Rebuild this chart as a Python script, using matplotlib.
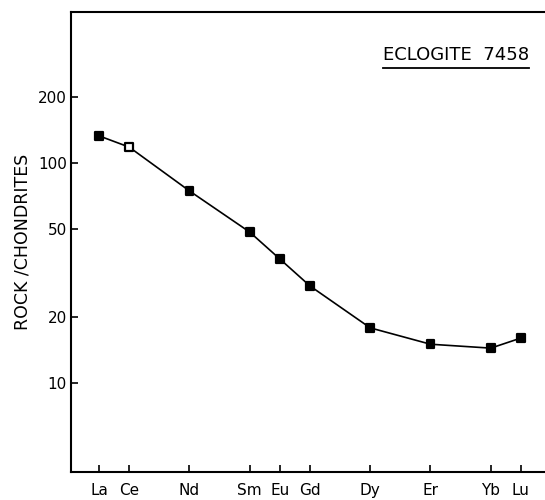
import matplotlib.pyplot as plt
from matplotlib.ticker import FixedLocator, NullLocator, FixedFormatter

# REE pattern, normalised to chondrites
elements = ['La', 'Ce', 'Nd', 'Sm', 'Eu', 'Gd', 'Dy', 'Er', 'Yb', 'Lu']
atomic_no = [57, 58, 60, 62, 63, 64, 66, 68, 70, 71]
rock_chondrite = [132.7, 118, 74.6, 48.5, 36.6, 27.6, 17.8, 15.0, 14.4, 16.0]
marker_face = ['black', 'white', 'black', 'black', 'black',
               'black', 'black', 'black', 'black', 'black']

y_ticks = [10, 20, 50, 100, 200]
y_ticklabels = ['10', '20', '50', '100', '200']

plt.rcParams['font.family'] = ['DejaVu Sans']

fig = plt.figure(figsize=(5.45, 5.0), dpi=100)
ax = fig.add_axes([0.1303, 0.056, 0.8697, 0.920])

ax.plot(atomic_no, rock_chondrite, color='black', lw=1.2, zorder=2)
ax.scatter(atomic_no, rock_chondrite, marker='s', s=32, c=marker_face,
           edgecolors='black', linewidths=1.6, zorder=3)

ax.set_yscale('log')
ax.set_ylim(3.94, 485)
ax.set_xlim(56.07, 71.8)

ax.yaxis.set_major_locator(FixedLocator(y_ticks))
ax.yaxis.set_major_formatter(FixedFormatter(y_ticklabels))
ax.yaxis.set_minor_locator(NullLocator())
ax.set_xticks(atomic_no)
ax.set_xticklabels(elements)
ax.xaxis.set_minor_locator(NullLocator())

ax.tick_params(axis='both', direction='in', length=5, width=1.2, labelsize=11)
ax.tick_params(axis='y', pad=3)
ax.tick_params(axis='x', pad=8)

for side in ['left', 'bottom', 'top']:
    ax.spines[side].set_linewidth(1.5)
ax.spines['right'].set_visible(False)

ax.set_ylabel('ROCK /CHONDRITES', fontsize=12.5, labelpad=5)

# underlined sample name
ax.text(0.658, 0.8957, 'ECLOGITE  7458', transform=ax.transAxes, ha='left', va='baseline',
        fontsize=13)
ax.plot([0.658, 0.966], [0.878, 0.878], transform=ax.transAxes, color='black', lw=1.3,
        clip_on=False)

fig.savefig('out.png', dpi=100)
